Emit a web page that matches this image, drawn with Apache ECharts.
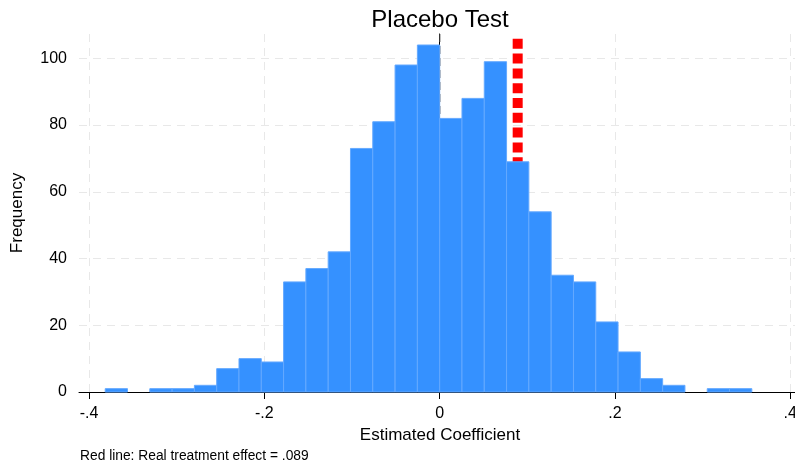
<!DOCTYPE html>
<html>
<head>
<meta charset="utf-8">
<script src="https://cdn.jsdelivr.net/npm/echarts@6/dist/echarts.min.js"></script>
<style>html,body{margin:0;padding:0;background:#fff}#c{width:795px;height:466px}</style>
</head>
<body>
<div id="c"></div>
<script>
// Histogram bins (lower edge of first bin and bin width, in coefficient units)
const binStart = -0.3816;
const binWidth = 0.02544;
// Frequency of each bin, left to right
const counts = [1, 0, 1, 1, 2, 7, 10, 9, 33, 37, 42, 73, 81, 98, 104, 82, 88, 99, 69, 54, 35, 33, 21, 12, 4, 2, 0, 1, 1];
// Axis ticks
const xTicks = [-0.4, -0.2, 0, 0.2, 0.4];
const yTicks = [0, 20, 40, 60, 80, 100];
const xRange = [-0.4115, 0.4054];
const yMax = 107.3;
// Reference lines
const realEffect = 0.089;
const zeroLine = 0;

const FONT = '"Liberation Sans", Arial, sans-serif';

const bins = counts.map((c, i) => [binStart + i * binWidth, binStart + (i + 1) * binWidth, c]);

function fmt(v) {
  const r = Math.round(v * 10) / 10;
  if (r === 0) return '0';
  return (r < 0 ? '-' : '') + String(Math.abs(r)).replace(/^0/, '');
}

const chart = echarts.init(document.getElementById('c'), null, {renderer: 'canvas'});
chart.setOption({
  animation: false,
  backgroundColor: '#fff',
  title: {
    text: 'Placebo Test',
    left: 435,
    top: 3,
    textAlign: 'center',
    textStyle: {fontFamily: FONT, fontSize: 24, fontWeight: 'normal', color: '#000'}
  },
  grid: {left: 79, right: 0, top: 34, bottom: 74, containLabel: false, outerBoundsMode: 'none'},
  xAxis: {
    type: 'value',
    min: xRange[0],
    max: xRange[1],
    name: 'Estimated Coefficient',
    nameLocation: 'middle',
    nameGap: 29,
    nameTextStyle: {fontFamily: FONT, fontSize: 17, color: '#000', padding: [0, 0, 0, 6]},
    axisLine: {onZero: false, lineStyle: {color: '#000', width: 1}},
    axisTick: {show: true, length: 7, customValues: xTicks, lineStyle: {color: '#000'}},
    axisLabel: {customValues: xTicks, formatter: fmt, margin: 14, fontFamily: FONT, fontSize: 16, color: '#000'},
    splitLine: {show: true, lineStyle: {color: '#e8e8e8', type: [8, 6], width: 1}}
  },
  yAxis: {
    type: 'value',
    min: 0,
    max: yMax,
    interval: 20,
    name: 'Frequency',
    nameLocation: 'middle',
    nameGap: 53,
    nameTextStyle: {fontFamily: FONT, fontSize: 17, color: '#000'},
    axisLine: {show: true, lineStyle: {color: '#000', width: 1}},
    axisTick: {show: true, length: 8, customValues: yTicks, lineStyle: {color: '#000'}},
    axisLabel: {customValues: yTicks, margin: 12, fontFamily: FONT, fontSize: 16, color: '#000'},
    splitLine: {show: true, lineStyle: {color: '#e8e8e8', type: [8, 6], width: 1}}
  },
  graphic: [{
    type: 'text',
    left: 80,
    top: 449,
    style: {text: 'Red line: Real treatment effect = .089', fontFamily: FONT, fontSize: 13.8, fill: '#000'}
  }],
  series: [
    {
      type: 'line',
      z: 2,
      symbol: 'none',
      data: [[zeroLine, yMax], [zeroLine, 0]],
      lineStyle: {color: '#333', width: 1.3, type: [8, 4]},
      silent: true
    },
    {
      type: 'line',
      z: 2,
      symbol: 'none',
      data: [[realEffect, yMax], [realEffect, 0]],
      lineStyle: {color: '#ff0000', width: 10, type: [10, 4.8], dashOffset: 10, cap: 'butt'},
      silent: true
    },
    {
      type: 'custom',
      z: 3,
      data: bins,
      encode: {x: [0, 1], y: 2},
      renderItem: function (params, api) {
        const x0 = api.value(0), x1 = api.value(1), v = api.value(2);
        if (!v) return null;
        const p0 = api.coord([x0, 0]);
        const p1 = api.coord([x1, v]);
        return {
          type: 'rect',
          shape: {x: p0[0], y: p1[1], width: p1[0] - p0[0], height: p0[1] - p1[1]},
          style: {fill: '#3591ff', stroke: '#64a9ff', lineWidth: 1}
        };
      }
    }
  ]
});
</script>
</body>
</html>
